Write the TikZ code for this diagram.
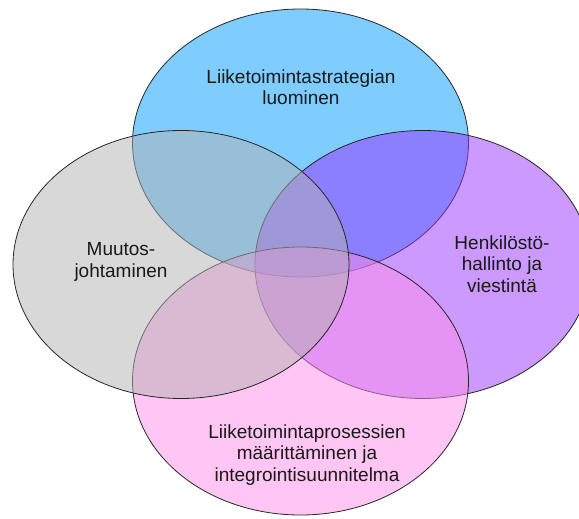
\documentclass[tikz,border=0pt]{standalone}
\usepackage{fontspec}
\setmainfont{Liberation Sans}
\usetikzlibrary{shapes.geometric}
\definecolor{vblue}{RGB}{0,153,255}
\definecolor{vpurple}{RGB}{153,51,255}
\definecolor{vpink}{RGB}{255,141,233}
\definecolor{vgray}{RGB}{178,178,178}
\definecolor{vtext}{RGB}{25,25,25}
\begin{document}
\begin{tikzpicture}[x=1pt,y=-1pt,
  vennset/.style={ellipse, draw=black!85, line width=0.8pt, fill opacity=0.5,
    inner sep=0pt, outer sep=0pt, minimum width=336pt, minimum height=268pt},
  vlabel/.style={align=center, text=vtext, inner sep=0pt,
    font=\fontsize{19}{21.5}\selectfont}]
\useasboundingbox (0,0) rectangle (579,519);
\node[vennset, fill=vblue]   (top)    at (300.5,143) {};
\node[vennset, fill=vpurple] (right)  at (423,264.5) {};
\node[vennset, fill=vpink]   (bottom) at (300.5,381) {};
\node[vennset, fill=vgray]   (left)   at (181,264.5) {};
\node[vlabel] (ttop)    at (301,87)  {Liiketoimintastrategian\\luominen};
\node[vlabel] (tleft)   at (121,262) {Muutos-\\johtaminen};
\node[vlabel] (tright)  at (502,264) {Henkilöstö-\\hallinto ja\\viestintä};
\node[vlabel] (tbottom) at (307,455) {Liiketoimintaprosessien\\määrittäminen ja\\integrointisuunnitelma};
\end{tikzpicture}
\end{document}
